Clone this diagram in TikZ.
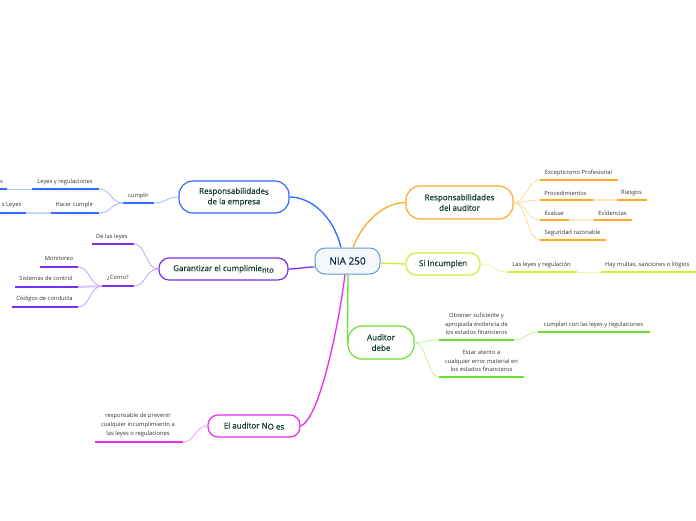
\documentclass[tikz,border=0pt]{standalone}
\usepackage{fontspec}
\setmainfont{Open Sans}
\newfontfamily\topicfont[FakeBold=0.5]{Open Sans}
\definecolor{cBlue}{HTML}{2F6BFF}
\definecolor{cOrange}{HTML}{FFA928}
\definecolor{cPurple}{HTML}{7B2FF0}
\definecolor{cLime}{HTML}{CBEF3A}
\definecolor{cGreen}{HTML}{6BE030}
\definecolor{cMag}{HTML}{EC2AEC}
\definecolor{cCenter}{HTML}{5B9BD5}
\definecolor{cCenterFill}{HTML}{F4F8FD}
\definecolor{nodetext}{HTML}{0E3B30}
\definecolor{navytext}{HTML}{0B2545}
\definecolor{subtext}{HTML}{333333}
\begin{document}
\begin{tikzpicture}[x=1pt,y=-1pt,
  topic/.style={draw, line width=1.2pt, fill=white, text=nodetext, font=\topicfont\fontsize{8}{10.5}\selectfont, align=center, inner sep=0pt},
  lbl/.style={text=subtext, font=\fontsize{5.8}{8.6}\selectfont, inner sep=0pt, align=center},
  ul/.style={line width=2.2pt, #1},
  link/.style={line width=0.8pt, #1!45},
  gap/.style={line width=2pt, #1!28},
  thingap/.style={line width=0.8pt, #1!40},
  mainline/.style={line width=1.3pt, #1}
]
\useasboundingbox (0,0) rectangle (696,520);
\fill[white] (0,0) rectangle (696,520);

% ---------- main topics ----------
\node[draw=cCenter, line width=1pt, fill=cCenterFill, rounded corners=10pt, minimum width=65pt, minimum height=26pt, inner sep=0pt, text=navytext, font=\topicfont\fontsize{10}{12}\selectfont] (nia) at (347.5,261) {NIA 250};

\node[topic, draw=cBlue, rounded corners=14pt, minimum width=110pt, minimum height=32pt] (re) at (234,197) {Responsabilidade\raisebox{-1pt}{s}\\de la empresa};
\node[topic, draw=cOrange, rounded corners=14pt, minimum width=107pt, minimum height=33pt] (ra) at (459.5,202.5) {Responsabilidades\\del auditor};
\node[topic, draw=cPurple, rounded corners=10pt, minimum width=129pt, minimum height=22pt] (ga) at (223.5,269) {Garantizar el cumplimie\raisebox{-1.5pt}{\fontsize{7.5}{9}\selectfont nto}};
\node[topic, draw=cLime, rounded corners=10pt, minimum width=74pt, minimum height=22pt] (si) at (443,264) {Si Incumplen};
\node[topic, draw=cGreen, rounded corners=14pt, minimum width=66pt, minimum height=33pt] (ad) at (381,342.5) {Auditor\\debe};
\node[topic, draw=cMag, rounded corners=10pt, minimum width=92pt, minimum height=22pt] (no) at (254,426) {El auditor N\raisebox{-1pt}{O es}};

% ---------- main connectors ----------
\draw[mainline=cBlue] ([xshift=-6.5pt]nia.north) .. controls +(-8,-33) and +(20,0) .. (re.east);
\draw[mainline=cOrange] ([xshift=5.5pt]nia.north) .. controls +(10,-26) and +(-21,0) .. (ra.west);
\draw[mainline=cPurple] ([yshift=-6pt]nia.west) .. controls +(-10,0) and +(10,0) .. (ga.east);
\draw[mainline=cLime] ([yshift=-2pt]nia.east) -- (si.west);
\draw[mainline=cGreen] ([xshift=0.5pt]nia.south) -- (ad.west);
\draw[mainline=cMag] ([xshift=-2.5pt]nia.south) .. controls +(-7,56) and +(18,-6) .. (no.east);

% ---------- Responsabilidades de la empresa ----------
\coordinate (cumL) at (123,203); \coordinate (cumR) at (154,203);
\node[lbl] (cum) at (138.5,196) {cumplir};
\draw[link=cBlue] (re.west) .. controls +(-12,0) and +(12,0) .. (cumR);
\draw[ul=cBlue] (cumL) -- (cumR);

\coordinate (lyrL) at (32,189); \coordinate (lyrR) at (99,189);
\node[lbl] (lyr) at (65,182) {Leyes y regulaciones};
\draw[link=cBlue] (cumL) .. controls +(-12,0) and +(12,0) .. (lyrR);
\draw[ul=cBlue] (lyrL) -- (lyrR);

\coordinate (hcL) at (51,213); \coordinate (hcR) at (99,213);
\node[lbl] (hc) at (74.5,205) {Hacer cumplir};
\draw[link=cBlue] (cumL) .. controls +(-12,0) and +(12,0) .. (hcR);
\draw[ul=cBlue] (hcL) -- (hcR);

\coordinate (sAL) at (-5,189); \coordinate (sAR) at (7,189);
\node[lbl, anchor=east] (sA) at (3,182) {s};
\draw[thingap=cBlue] (sAR) -- (lyrL);
\draw[ul=cBlue] (sAL) -- (sAR);

\coordinate (sBL) at (-5,213); \coordinate (sBR) at (26,213);
\node[lbl, anchor=east] (sB) at (21.5,205) {s Leyes};
\draw[gap=cBlue] (sBR) -- (hcL);
\draw[ul=cBlue] (sBL) -- (sBR);

% ---------- Garantizar el cumplimiento ----------
\coordinate (dlL) at (92,244); \coordinate (dlR) at (134,244);
\node[lbl] (dl) at (112,237) {De las leyes};
\draw[link=cPurple] (ga.west) .. controls +(-13,0) and +(12,0) .. (dlR);
\draw[ul=cPurple] (dlL) -- (dlR);

\coordinate (coL) at (102,286); \coordinate (coR) at (134,286);
\node[lbl] (co) at (118,278) {¿Como?};
\draw[link=cPurple] (ga.west) .. controls +(-13,0) and +(12,0) .. (coR);
\draw[ul=cPurple] (coL) -- (coR);

\coordinate (moL) at (40,267); \coordinate (moR) at (78,267);
\node[lbl] (mo) at (59,258.5) {Monitoreo};
\draw[link=cPurple] (coL) .. controls +(-12,0) and +(12,0) .. (moR);
\draw[ul=cPurple] (moL) -- (moR);

\coordinate (scL) at (15,287); \coordinate (scR) at (78,287);
\node[lbl] (sc) at (46,278.5) {Sistemas de control};
\draw[gap=cPurple] (coL) .. controls +(-12,0) and +(12,0) .. (scR);
\draw[ul=cPurple] (scL) -- (scR);

\coordinate (cdL) at (12,307); \coordinate (cdR) at (78,307);
\node[lbl] (cd) at (44.5,298.5) {Códigos de conducta};
\draw[link=cPurple] (coL) .. controls +(-12,0) and +(12,0) .. (cdR);
\draw[ul=cPurple] (cdL) -- (cdR);

% ---------- Responsabilidades del auditor ----------
\coordinate (exL) at (540,180); \coordinate (exR) at (618,180);
\node[lbl] (ex) at (578.5,173) {Excepticismo Profesional};
\draw[link=cOrange] (ra.east) .. controls +(13,0) and +(-13,0) .. (exL);
\draw[ul=cOrange] (exL) -- (exR);

\coordinate (prL) at (540,200); \coordinate (prR) at (593,200);
\node[lbl] (pr) at (565.5,193) {Procedimientos};
\draw[link=cOrange] (ra.east) .. controls +(13,0) and +(-13,0) .. (prL);
\draw[ul=cOrange] (prL) -- (prR);

\coordinate (riL) at (617,200); \coordinate (riR) at (647,200);
\node[lbl] (ri) at (631.5,193) {Riesgos};
\draw[gap=cOrange] (prR) -- (riL);
\draw[ul=cOrange] (riL) -- (riR);

\coordinate (evL) at (540,220); \coordinate (evR) at (569,220);
\node[lbl] (ev) at (554.5,213) {Evaluar};
\draw[link=cOrange] (ra.east) .. controls +(13,0) and +(-13,0) .. (evL);
\draw[ul=cOrange] (evL) -- (evR);

\coordinate (eiL) at (594,220); \coordinate (eiR) at (632,220);
\node[lbl] (ei) at (612.5,213) {Evidencias};
\draw[gap=cOrange] (evR) -- (eiL);
\draw[ul=cOrange] (eiL) -- (eiR);

\coordinate (srL) at (540,240); \coordinate (srR) at (606,240);
\node[lbl] (sr) at (572.5,233) {Seguridad razonable};
\draw[link=cOrange] (ra.east) .. controls +(13,0) and +(-13,0) .. (srL);
\draw[ul=cOrange] (srL) -- (srR);

% ---------- Si Incumplen ----------
\coordinate (llL) at (507,272); \coordinate (llR) at (577,272);
\node[lbl] (ll) at (541.5,264.5) {Las leyes y regulación};
\draw[link=cLime] (si.east) .. controls +(14,0) and +(-14,0) .. (llL);
\draw[ul=cLime] (llL) -- (llR);

\coordinate (hmL) at (601,272); \coordinate (hmR) at (705,272);
\node[lbl, anchor=west] (hm) at (605,264.5) {Hay multas, sanciones o litigios};
\draw[thingap=cLime] (llR) -- (hmL);
\draw[ul=cLime] (hmL) -- (hmR);

% ---------- Auditor debe ----------
\coordinate (obL) at (439,340); \coordinate (obR) at (514,340);
\node[lbl] (ob) at (476.5,324) {Obtener suficiente y\\apropiada evidencia de\\los estados financieros};
\draw[link=cGreen] (ad.east) .. controls +(12,0) and +(-12,0) .. (obL);
\draw[ul=cGreen] (obL) -- (obR);

\coordinate (cuL) at (538,332); \coordinate (cuR) at (650,332);
\node[lbl] (cu) at (593.5,325) {cumplan con las leyes y regulaciones};
\draw[link=cGreen] (obR) .. controls +(12,0) and +(-12,0) .. (cuL);
\draw[ul=cGreen] (cuL) -- (cuR);

\coordinate (esL) at (439,377); \coordinate (esR) at (524,377);
\node[lbl] (es) at (481.5,361) {Estar atento a\\cualquier error material en\\los estados financieros};
\draw[link=cGreen] (ad.east) .. controls +(12,0) and +(-12,0) .. (esL);
\draw[ul=cGreen] (esL) -- (esR);

% ---------- El auditor NO es ----------
\coordinate (rpL) at (95,442); \coordinate (rpR) at (183,442);
\node[lbl] (rp) at (138,425) {responsable de prevenir\\cualquier incumplimiento a\\las leyes o regulaciones};
\draw[link=cMag] (no.west) .. controls +(-12,0) and +(12,0) .. (rpR);
\draw[ul=cMag] (rpL) -- (rpR);
\end{tikzpicture}
\end{document}
